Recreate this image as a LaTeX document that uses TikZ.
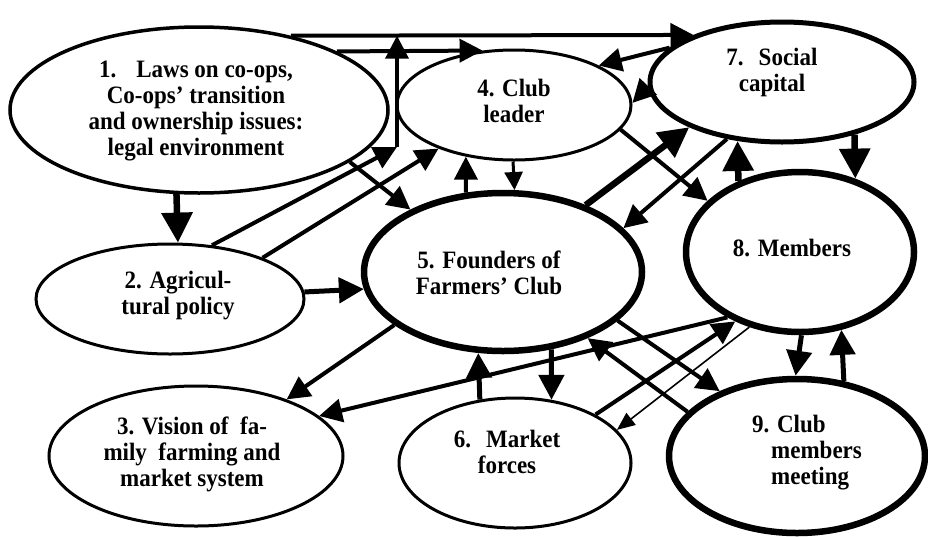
\documentclass[tikz,border=0pt]{standalone}
\usepackage{fontspec}
\setmainfont{Liberation Serif}[FakeStretch=0.92]
\usetikzlibrary{shapes.geometric,arrows.meta}
\tikzset{
  ell/.style={ellipse,draw,line width=3pt,inner sep=0pt},
  lbl/.style={font=\bfseries\fontsize{25}{26}\selectfont,align=center,inner sep=0pt},
  arr/.style={line width=4pt,-{Triangle[length=23pt,width=23pt]}},
  midarr/.style={line width=5pt,-{Triangle[length=25pt,width=25pt]}},
  bigarr/.style={line width=6.5pt,-{Triangle[length=30pt,width=30pt]}},
  smarr/.style={line width=3pt,-{Triangle[length=18pt,width=18pt]}},
  thinarr/.style={line width=1.6pt,-{Triangle[length=18pt,width=15pt]}}
}
\begin{document}
\begin{tikzpicture}[x=1pt,y=-1pt]
\useasboundingbox (0,0) rectangle (928,536);

% the nine factors
\node[ell,line width=3.5pt,minimum width=378pt,minimum height=166pt] (law) at (199,110) {};
\node[ell,minimum width=268pt,minimum height=110pt] (pol) at (170,299) {};
\node[ell,minimum width=294pt,minimum height=140pt] (vis) at (196,456) {};
\node[ell,minimum width=234pt,minimum height=110pt] (lead) at (514,105) {};
\node[ell,line width=6.5pt,minimum width=278pt,minimum height=158pt] (fnd) at (503,272) {};
\node[ell,minimum width=232pt,minimum height=130pt] (mkt) at (515,463) {};
\node[ell,line width=5pt,minimum width=264pt,minimum height=120pt] (soc) at (782,82) {};
\node[ell,line width=6.5pt,minimum width=228pt,minimum height=160pt] (mem) at (800,252) {};
\node[ell,line width=6.5pt,minimum width=256pt,minimum height=154pt] (meet) at (797,456) {};

\node[lbl] (lawtxt) at (196,111) {1.\hspace{0.8em}Laws on co-ops,\\Co-ops' transition\\and ownership issues:\\legal environment};
\node[lbl] (poltxt) at (178,296) {2. Agricul-\\tural policy};
\node[lbl] (vistxt) at (192,454) {3. Vision of\ \ fa-\\mily\ \ farming and\\market system};
\node[lbl] (leadtxt) at (514,101) {4. Club\\leader};
\node[lbl] (fndtxt) at (489,273) {5. Founders of\\Farmers' Club};
\node[lbl] (mkttxt) at (507,452) {6.\hspace{0.6em}Market\\forces};
\node[lbl] (soctxt) at (772,72) {7.\hspace{0.6em}Social\\capital};
\node[lbl] (memtxt) at (792,248) {8. Members};
\node[lbl,align=left,anchor=west] (meettxt) at (752,453) {9. Club\\\hspace*{19pt}members\\\hspace*{19pt}meeting};

% links from the legal environment
\coordinate (jn) at (397,147);
\draw[arr] (law.39) -- (soc.152.6);
\draw[arr] (law.23.3) -- (lead.120.3);
\draw[arr] (pol.52.5) -- (jn);
\draw[arr] (jn) -- (jn |- law.39);
\draw[arr] (pol.24.3) -- (lead.210.2);
\draw[arr] (law.-19) -- (fnd.146);
\draw[bigarr] (law.255.2) -- (pol.82.7);
\draw[midarr] (pol.3.9) -- (fnd.187.6);

% around the founders
\draw[arr] (fnd.115.3) -- (lead.227);
\draw[smarr] (lead.269) -- (fnd.82.8);
\draw[arr] (soc.163.8) -- (lead.25.7);
\draw[arr] (soc.182.6) -- (lead.1.5);
\draw[bigarr] (fnd.39.4) -- (soc.206.1);
\draw[arr] (soc.226) -- (fnd.20.4);
\draw[arr] (lead.-13.6) -- (mem.151.2);
\draw[bigarr] (mem.131.4) -- (soc.233.6);
\draw[bigarr] (soc.324.5) -- (mem.53.2);

% lower half
\draw[midarr] (mem.-89) -- (meet.91);
\draw[midarr] (meet.58.7) -- (mem.298.8);
\draw[arr] (fnd.337.7) -- (meet.140.3);
\draw[arr] (meet.158) -- (fnd.322.2);
\draw[arr] (mkt.31.4) -- (mem.227);
\draw[thinarr] (mem.236.8) -- (mkt.18.6);
\draw[arr] (mem.222) -- (vis.18.3);
\draw[arr] (fnd.206.1) -- (vis.32.5);
\draw[midarr] (mkt.119.4) -- (fnd.253.6);
\draw[midarr] (fnd.302.3) -- (mkt.60.6);

\end{tikzpicture}
\end{document}
